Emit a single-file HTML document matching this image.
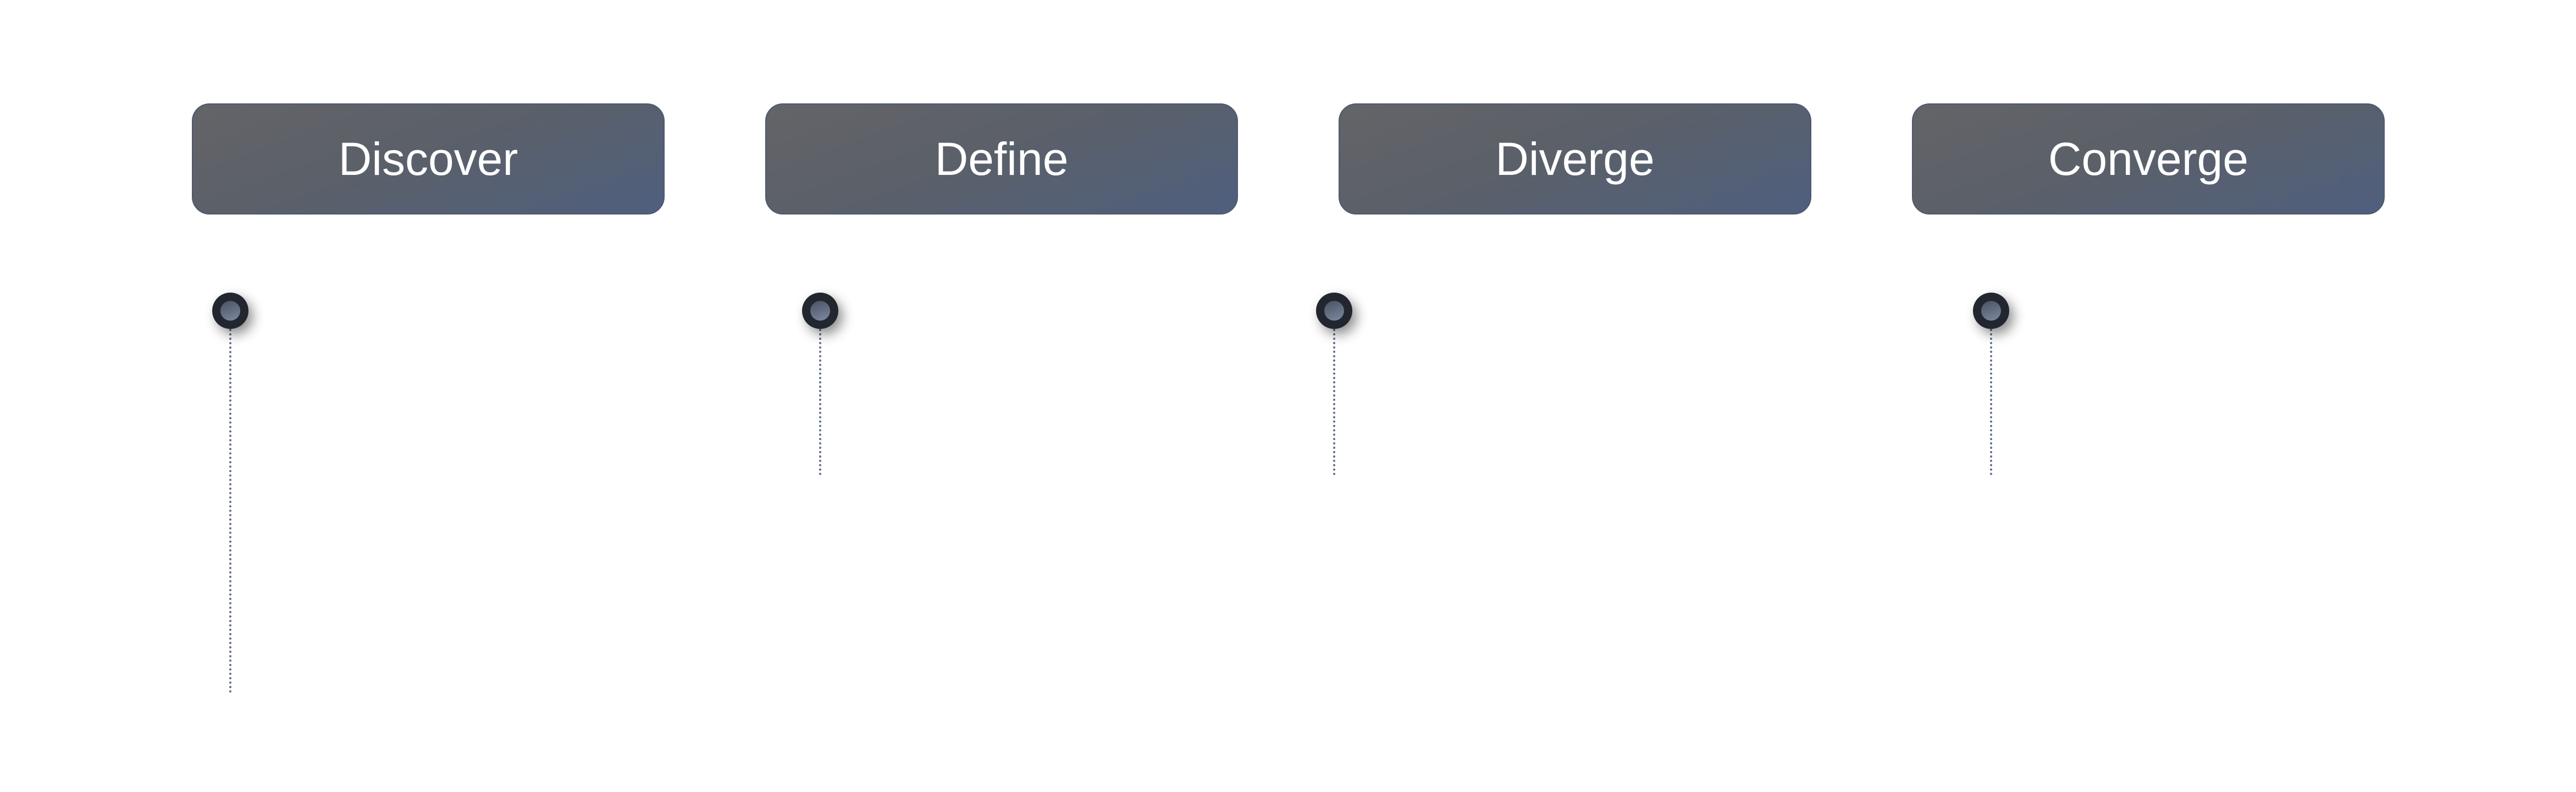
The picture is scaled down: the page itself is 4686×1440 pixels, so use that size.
<!DOCTYPE html>
<html><head><meta charset="utf-8"><style>
html,body{margin:0;padding:0;background:#fff;}
body{width:4686px;height:1440px;position:relative;overflow:hidden;font-family:"Liberation Sans",sans-serif;}
.box{position:absolute;top:188px;width:860px;height:202px;border-radius:32px;background:linear-gradient(160deg,#636467 0%,#5b6069 45%,#4f5f7e 100%);border:2px solid #4d5870;box-sizing:border-box;color:#fff;font-size:84px;display:flex;align-items:center;justify-content:center;}
.dot{position:absolute;width:66px;height:66px;border-radius:50%;background:#22262f;box-shadow:8px 10px 22px rgba(0,0,0,0.45);top:532px;}
.dot::after{content:"";position:absolute;left:15px;top:15px;width:36px;height:36px;border-radius:50%;background:linear-gradient(160deg,#4a5060,#7d8aa3);}
.line{position:absolute;top:598px;width:0;border-left:4px dotted #5f6f88;}
</style></head><body>
<div class="box" style="left:349px">Discover</div>
<div class="box" style="left:1392px">Define</div>
<div class="box" style="left:2435px">Diverge</div>
<div class="box" style="left:3478px">Converge</div>
<div class="line" style="left:417px;height:662px"></div>
<div class="line" style="left:1490px;height:266px"></div>
<div class="line" style="left:2425px;height:266px"></div>
<div class="line" style="left:3620px;height:266px"></div>
<div class="dot" style="left:386px"></div>
<div class="dot" style="left:1459px"></div>
<div class="dot" style="left:2394px"></div>
<div class="dot" style="left:3589px"></div>
</body></html>
